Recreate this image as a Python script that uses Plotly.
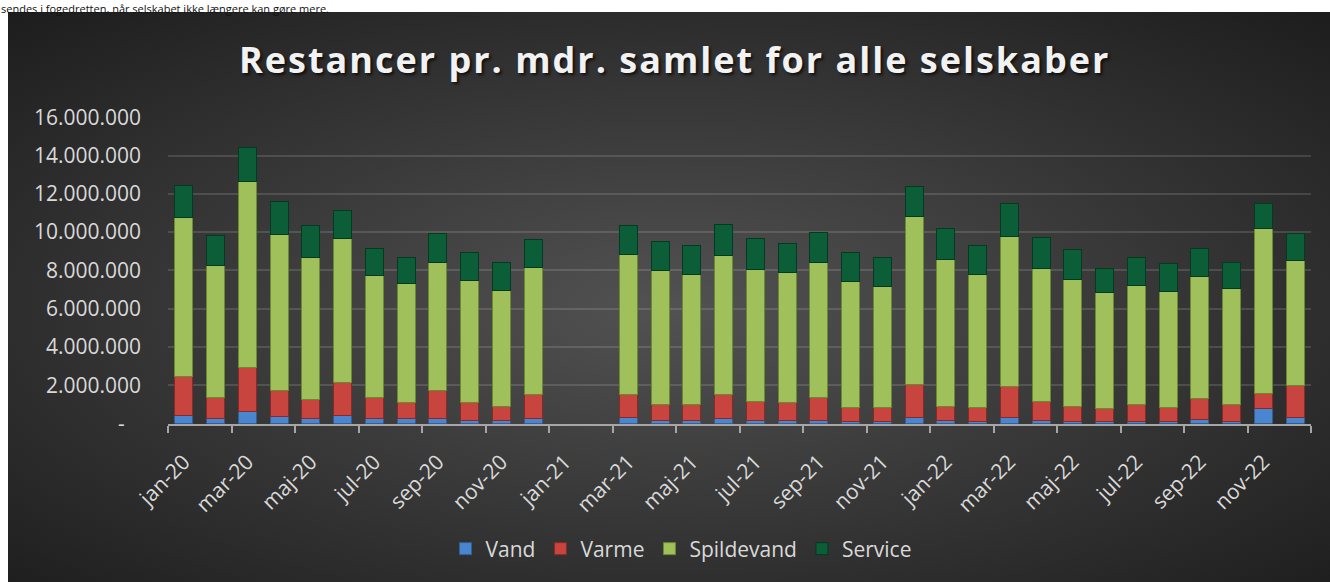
import base64
import plotly.graph_objects as go

# ---------------- data ----------------
months = [
    "jan-20", "feb-20", "mar-20", "apr-20", "maj-20", "jun-20", "jul-20", "aug-20", "sep-20", "okt-20", "nov-20", "dec-20",
    "jan-21", "feb-21", "mar-21", "apr-21", "maj-21", "jun-21", "jul-21", "aug-21", "sep-21", "okt-21", "nov-21", "dec-21",
    "jan-22", "feb-22", "mar-22", "apr-22", "maj-22", "jun-22", "jul-22", "aug-22", "sep-22", "okt-22", "nov-22", "dec-22",
]

vand = [410000, 270000, 650000, 360000, 270000, 440000, 270000, 240000, 270000, 180000, 150000, 240000,
        None, None, 300000, 150000, 150000, 240000, 180000, 150000, 180000, 100000, 100000, 300000,
        150000, 100000, 300000, 180000, 130000, 100000, 100000, 100000, 220000, 100000, 760000, 300000]

varme = [2040000, 1100000, 2270000, 1390000, 990000, 1710000, 1080000, 850000, 1430000, 910000, 760000, 1300000,
         None, None, 1190000, 850000, 850000, 1280000, 960000, 960000, 1170000, 750000, 750000, 1760000,
         760000, 730000, 1620000, 960000, 780000, 690000, 870000, 750000, 1100000, 900000, 820000, 1660000]

spildevand = [8320000, 6900000, 9710000, 8150000, 7420000, 7520000, 6390000, 6200000, 6720000, 6370000, 6030000, 6600000,
              None, None, 7350000, 6980000, 6770000, 7250000, 6910000, 6790000, 7070000, 6560000, 6300000, 8740000,
              7680000, 6940000, 7860000, 6950000, 6620000, 6060000, 6230000, 6040000, 6350000, 6030000, 8600000, 6550000]

service = [1670000, 1580000, 1800000, 1720000, 1690000, 1480000, 1410000, 1390000, 1520000, 1500000, 1480000, 1480000,
           None, None, 1510000, 1520000, 1540000, 1650000, 1620000, 1510000, 1570000, 1530000, 1530000, 1610000,
           1610000, 1540000, 1690000, 1640000, 1570000, 1260000, 1480000, 1480000, 1480000, 1390000, 1320000, 1430000]

y_tickvals = [0, 2000000, 4000000, 6000000, 8000000, 10000000, 12000000, 14000000, 16000000]
y_ticktext = ["-\u00a0\u00a0\u00a0", "2.000.000", "4.000.000", "6.000.000", "8.000.000",
              "10.000.000", "12.000.000", "14.000.000", "16.000.000"]

series = [
    ("Vand", vand, "#4a86d0", "#2f5f99"),
    ("Varme", varme, "#c8443f", "#8a2a27"),
    ("Spildevand", spildevand, "#9fc05a", "#6a8a30"),
    ("Service", service, "#0b5e38", "#053a22"),
]

W, H = 1330, 582

fig = go.Figure()
for name, vals, col, edge in series:
    fig.add_trace(go.Bar(
        x=months, y=vals, name=name,
        marker=dict(color=col, line=dict(color=edge, width=1)),
        hoverinfo="x+y+name",
    ))

# radial gradient background (Excel style dark chart area)
svg = (
    "<svg xmlns='http://www.w3.org/2000/svg' width='1322' height='570' viewBox='0 0 1322 570' preserveAspectRatio='none'>"
    "<defs><radialGradient id='g' cx='0.5' cy='0.52' r='0.72'>"
    "<stop offset='0' stop-color='#525252'/><stop offset='1' stop-color='#1d1d1d'/>"
    "</radialGradient></defs><rect width='1322' height='570' fill='url(#g)'/></svg>"
)
src = "data:image/svg+xml;base64," + base64.b64encode(svg.encode()).decode()

title_text = '<span style="letter-spacing:2px">Restancer pr. mdr. samlet for alle selskaber</span>'

fig.update_layout(
    width=W, height=H,
    margin=dict(l=0, r=0, t=0, b=0, pad=0, autoexpand=False),
    paper_bgcolor="white",
    plot_bgcolor="rgba(0,0,0,0)",
    barmode="stack",
    bargap=0.43,
    font=dict(family="Open Sans, sans-serif", color="#d9d9d9", size=21),
    images=[dict(source=src, xref="paper", yref="paper",
                 x=8 / W, y=1 - 12 / H, sizex=1322 / W, sizey=570 / H,
                 xanchor="left", yanchor="top", sizing="stretch", layer="below")],
    xaxis=dict(
        domain=[168 / W, 1311 / W],
        automargin=False,
        type="category",
        categoryorder="array", categoryarray=months,
        range=[-0.5, 35.5],
        tickmode="linear", tick0=0, dtick=2,
        tickson="boundaries",
        ticks="outside", ticklen=7, tickwidth=2, tickcolor="#a6a6a6",
        showline=True, linecolor="#a6a6a6", linewidth=2,
        tickangle=-45, ticklabelstandoff=16,
        tickfont=dict(size=21, color="#d9d9d9"),
        showgrid=False,
    ),
    yaxis=dict(
        domain=[1 - 423.5 / H, 1 - 117.3 / H],
        automargin=False,
        range=[0, 16000000],
        tickmode="array", tickvals=y_tickvals, ticktext=y_ticktext,
        ticks="", ticklabelstandoff=26,
        tickfont=dict(size=21, color="#d9d9d9"),
        showgrid=True, gridcolor="rgba(255,255,255,0.13)", gridwidth=2,
        zeroline=False, showline=False,
    ),
    legend=dict(
        orientation="h", x=681 / W, xanchor="center", y=1 - 549 / H, yanchor="middle",
        font=dict(size=21, color="#d9d9d9"), bgcolor="rgba(0,0,0,0)",
        traceorder="normal",
    ),
    annotations=[
        dict(text=title_text,
             xref="paper", yref="paper", x=674 / W, y=1 - 60 / H,
             xanchor="center", yanchor="middle", showarrow=False,
             font=dict(family="Open Sans, sans-serif", size=36, color="#f2f2f2",
                       weight="bold", shadow="2px 2px 3px rgba(0,0,0,0.7)")),
        dict(text="sendes i fogedretten, når selskabet ikke længere kan gøre mere.",
             xref="paper", yref="paper", x=0, y=1,
             xanchor="left", yanchor="top", showarrow=False, borderpad=0,
             font=dict(family="Open Sans, sans-serif", size=11, color="#111111")),
    ],
)

fig.write_html("out.html", config={"displayModeBar": False},
               post_script="document.body.style.margin='0';")
